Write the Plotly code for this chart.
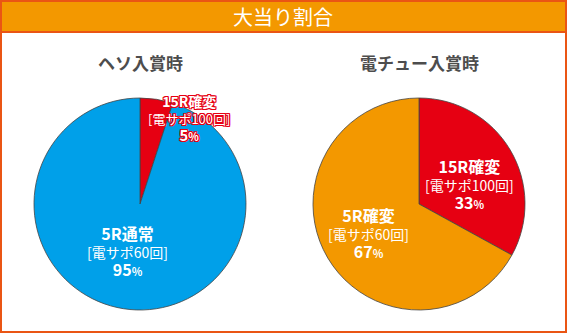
import plotly.graph_objects as go

W, H = 567, 333
title = "大当り割合"
pie_titles = ["ヘソ入賞時", "電チュー入賞時"]
left_labels = ["15R確変", "5R通常"]
left_values = [5, 95]
left_colors = ["#E60012", "#00A0E9"]
right_labels = ["15R確変", "5R確変"]
right_values = [33, 67]
right_colors = ["#E60012", "#F39800"]
left_sub = ["[電サポ100回]", "[電サポ60回]"]
right_sub = ["[電サポ100回]", "[電サポ60回]"]

FONT = "Noto Sans CJK JP"

def px(x):
    return x / W

def py(y):
    return 1 - y / H

fig = go.Figure()
fig.add_trace(go.Pie(
    labels=left_labels, values=left_values, sort=False, direction="clockwise",
    rotation=0, textinfo="none", hoverinfo="skip", showlegend=False,
    marker=dict(colors=left_colors, line=dict(color="#444444", width=0.8)),
    domain=dict(x=[px(34), px(246)], y=[py(310), py(98)]),
))
fig.add_trace(go.Pie(
    labels=right_labels, values=right_values, sort=False, direction="clockwise",
    rotation=0, textinfo="none", hoverinfo="skip", showlegend=False,
    marker=dict(colors=right_colors, line=dict(color="#444444", width=0.8)),
    domain=dict(x=[px(313), px(525)], y=[py(310), py(98)]),
))

shapes = [
    dict(type="rect", xref="paper", yref="paper", x0=px(1), x1=px(566), y0=py(332), y1=py(1),
         line=dict(color="#EA5514", width=2), fillcolor="rgba(0,0,0,0)", layer="above"),
    dict(type="rect", xref="paper", yref="paper", x0=px(1), x1=px(566), y0=py(32), y1=py(1),
         line=dict(color="#EA5514", width=2), fillcolor="#F39800", layer="below"),
]

anns = []
def add(x, y, text, size, color="white", bold=True, shadow=None):
    f = dict(family=FONT, size=size, color=color, weight="bold" if bold else "normal")
    if shadow:
        f["shadow"] = shadow
    anns.append(dict(x=px(x), y=py(y), xref="paper", yref="paper", text=text,
                     showarrow=False, font=f, xanchor="center", yanchor="middle",
                     align="center"))

def block(name, sub, value, s1, s3):
    return (f"<b><span style='font-size:{s1}px'>{name}</span></b><br>"
            f"{sub}<br>"
            f"<b><span style='font-size:{s3}px'>{value}</span>"
            f"<span style='font-size:11px'>%</span></b>")

add(283, 16, title, 20, bold=False)
add(140, 62, pie_titles[0], 17, color="#4D4D4D")
add(419, 62, pie_titles[1], 17, color="#4D4D4D")

red_sh = "1px 1px 0 #E60012, -1px -1px 0 #E60012, 1px -1px 0 #E60012, -1px 1px 0 #E60012, 0 1px 0 #E60012, 0 -1px 0 #E60012, 1px 0 0 #E60012, -1px 0 0 #E60012"

# left pie labels
add(189, 118, block(left_labels[0], left_sub[0], left_values[0], 14, 15), 13, bold=False, shadow=red_sh)
add(127, 251, block(left_labels[1], left_sub[1], left_values[1], 16, 16), 14, bold=False)

# right pie labels
add(469, 184, block(right_labels[0], right_sub[0], right_values[0], 16, 16), 14, bold=False)
add(368, 233, block(right_labels[1], right_sub[1], right_values[1], 16, 16), 14, bold=False)

fig.update_layout(
    width=W, height=H, margin=dict(l=0, r=0, t=0, b=0),
    paper_bgcolor="white", plot_bgcolor="white",
    shapes=shapes, annotations=anns, font=dict(family=FONT),
)
fig.write_html("out.html")
